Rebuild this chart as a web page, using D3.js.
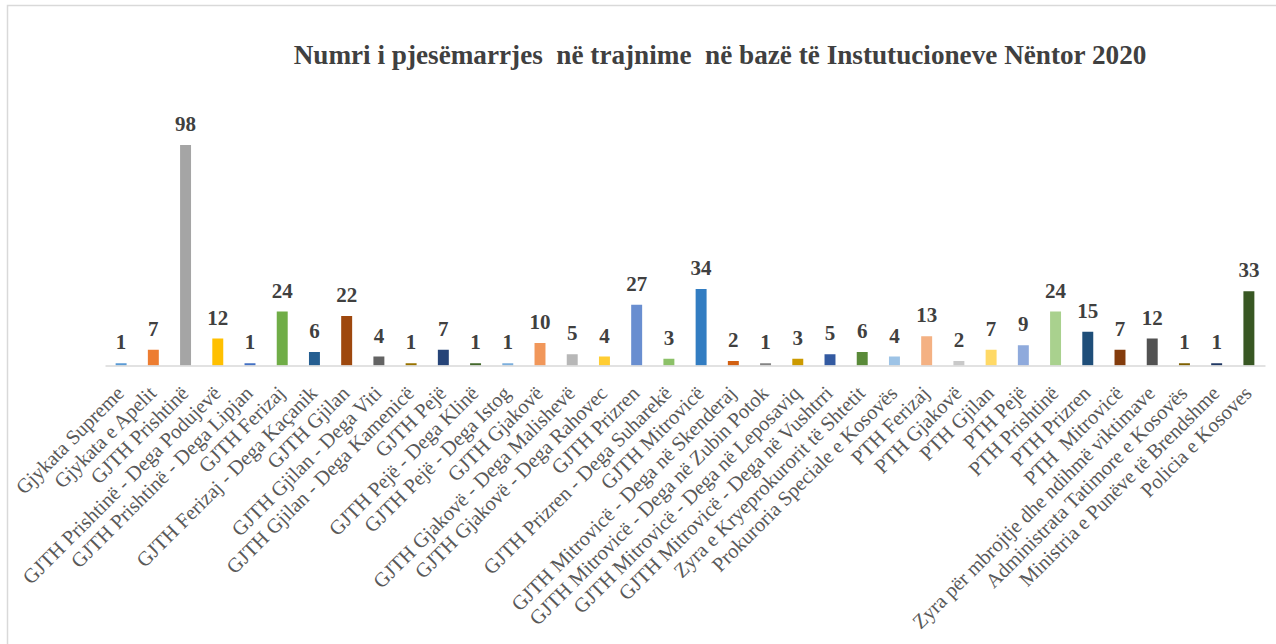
<!DOCTYPE html>
<html>
<head>
<meta charset="utf-8">
<script src="https://cdn.jsdelivr.net/npm/d3@7"></script>
<style>
    body { margin: 0; background: #fff; }
    svg { display: block; }
    text { font-family: "Liberation Serif", "Times New Roman", serif; }
</style>
</head>
<body>
<svg id="viz1" width="1276" height="644"></svg>
<script>
// categories and values
const institutions = [
    "Gjykata Supreme", "Gjykata e Apelit", "GJTH Prishtinë", "GJTH Prishtinë - Dega Podujevë",
    "GJTH Prishtinë - Dega Lipjan", "GJTH Ferizaj", "GJTH Ferizaj - Dega Kaçanik", "GJTH Gjilan",
    "GJTH Gjilan - Dega Viti", "GJTH Gjilan - Dega Kamenicë", "GJTH Pejë", "GJTH Pejë - Dega Klinë",
    "GJTH Pejë - Dega Istog", "GJTH Gjakovë", "GJTH Gjakovë - Dega Malishevë", "GJTH Gjakovë - Dega Rahovec",
    "GJTH Prizren", "GJTH Prizren - Dega Suharekë", "GJTH Mitrovicë", "GJTH Mitrovicë - Dega në Skenderaj",
    "GJTH Mitrovicë - Dega në Zubin Potok", "GJTH Mitrovicë - Dega në Leposaviq", "GJTH Mitrovicë - Dega në Vushtrri",
    "Zyra e Kryeprokurorit të Shtetit", "Prokuroria Speciale e Kosovës", "PTH Ferizaj", "PTH Gjakovë",
    "PTH Gjilan", "PTH Pejë", "PTH Prishtinë", "PTH Prizren", "PTH  Mitrovicë",
    "Zyra për mbrojtje dhe ndihmë viktimave", "Administrata Tatimore e Kosovës",
    "Ministria e Punëve të Brendshme", "Policia e Kosoves"
];

const participants = [
    1, 7, 98, 12, 1, 24, 6, 22, 4, 1, 7, 1, 1, 10, 5, 4, 27, 3, 34, 2, 1, 3, 5,
    6, 4, 13, 2, 7, 9, 24, 15, 7, 12, 1, 1, 33
];

const barColors = [
    "#5B9BD5", "#ED7D31", "#A5A5A5", "#FFC000", "#4472C4", "#70AD47",
    "#255E91", "#9E480E", "#636363", "#997300", "#264478", "#43682B",
    "#7CAFDD", "#F1975A", "#B7B7B7", "#FFCD33", "#698ED0", "#8CC168",
    "#327DC2", "#D26012", "#848484", "#CC9A00", "#335AA1", "#5A8A39",
    "#9DC3E6", "#F4B183", "#C9C9C9", "#FFD966", "#8FAADC", "#A9D18E",
    "#1F4E79", "#843C0C", "#525252", "#7F6000", "#203864", "#385723"
];

const chartTitle = "Numri i pjesëmarrjes  në trajnime  në bazë të Instutucioneve Nëntor 2020";

const svg = d3.select("#viz1");

// chart frame (only top and left edges fall inside the picture)
svg.append("rect")
    .attr("x", 7.5).attr("y", 5.5)
    .attr("width", 1400).attr("height", 800)
    .attr("fill", "none")
    .attr("stroke", "#d9d9d9")
    .attr("stroke-width", 1.5);

const plot = {left: 105, right: 1265, baseline: 365.5};

var xScale = d3.scaleBand()
    .domain(institutions)
    .range([plot.left, plot.right])
    .paddingInner(0.66)
    .paddingOuter(0.33);

var yScale = d3.scaleLinear()
    .domain([0, 98])
    .range([plot.baseline, 145]);

svg.append("text")
    .attr("x", 720)
    .attr("y", 64)
    .attr("text-anchor", "middle")
    .style("white-space", "pre")
    .attr("font-size", "27.2px")
    .attr("font-weight", "bold")
    .attr("fill", "#404040")
    .text(chartTitle);

let g = svg.append("g");

g.selectAll("rect.bar")
    .data(participants)
    .enter()
    .append("rect")
    .attr("class", "bar")
    .attr("x", (d, i) => xScale(institutions[i]))
    .attr("y", d => yScale(d))
    .attr("width", xScale.bandwidth())
    .attr("height", d => plot.baseline - yScale(d))
    .attr("fill", (d, i) => barColors[i]);

// value labels
g.selectAll("text.val")
    .data(participants)
    .enter()
    .append("text")
    .attr("class", "val")
    .attr("x", (d, i) => xScale(institutions[i]) + xScale.bandwidth() / 2)
    .attr("y", d => yScale(d) - 14)
    .attr("text-anchor", "middle")
    .attr("font-size", "21px")
    .attr("font-weight", "bold")
    .attr("fill", "#404040")
    .text(d => d);

// category axis
var xAxis = d3.axisBottom(xScale).tickSize(0).tickPadding(0);

let axisG = svg.append("g")
    .attr("transform", `translate(0,${plot.baseline})`)
    .call(xAxis);

axisG.select(".domain")
    .attr("stroke", "#d9d9d9")
    .attr("stroke-width", 1.5);

axisG.selectAll(".tick text")
    .attr("font-family", "Liberation Serif, Times New Roman, serif")
    .attr("font-size", "20.5px")
    .attr("fill", "#595959")
    .style("white-space", "pre")
    .attr("text-anchor", "end")
    .attr("dy", "0.35em")
    .attr("transform", "translate(-1,24) rotate(-45)")
    .attr("y", 0)
    .attr("x", 0);
</script>
</body>
</html>
